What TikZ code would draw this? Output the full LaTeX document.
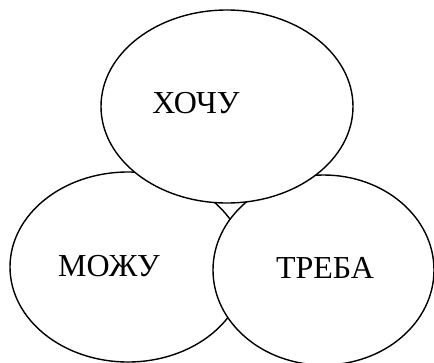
\documentclass[tikz,border=0pt]{standalone}
\usepackage{fontspec}
\setmainfont{Liberation Serif}
\usetikzlibrary{shapes.geometric}

\begin{document}
\begin{tikzpicture}[x=1pt,y=-1pt,
  oval/.style={draw, ellipse, fill=white, line width=1.4pt, inner sep=0pt},
  word/.style={font=\fontsize{32}{38}\selectfont}]
\useasboundingbox (0,0) rectangle (434,362);

\node[oval, minimum width=236pt, minimum height=190pt] (mozhu) at (128,267) {};
\node[oval, minimum width=221pt, minimum height=190pt] (treba) at (323.5,270) {};
\node[oval, minimum width=252pt, minimum height=193pt] (khochu) at (227,106.5) {};

\node[word] (tkhochu) at (196,103) {ХОЧУ};
\node[word] (tmozhu) at (109,266) {МОЖУ};
\node[word] (ttreba) at (325,268) {ТРЕБА};
\end{tikzpicture}
\end{document}
